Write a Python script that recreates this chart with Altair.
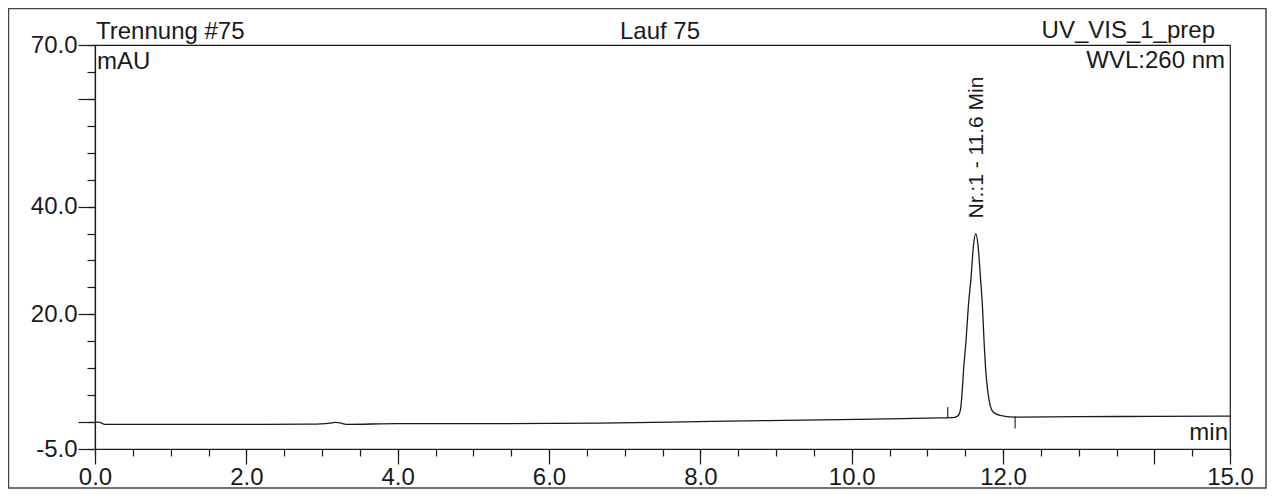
import altair as alt
import pandas as pd

# ---- data ----
time_min = [0.0, 0.05, 0.13, 1.0, 2.0, 2.8, 3.05, 3.13, 3.18, 3.24, 3.32, 4.0, 5.08, 6.67,
            8.16, 10.07, 11.17, 11.34, 11.41, 11.44, 11.46, 11.48, 11.51, 11.54, 11.58,
            11.61, 11.64, 11.67, 11.70, 11.73, 11.75, 11.77, 11.80, 11.83, 11.87, 11.96,
            12.14, 13.0, 14.0, 15.0]
signal_mau = [0.0, 0.0, -0.43, -0.43, -0.42, -0.40, -0.30, -0.15, -0.05, -0.15, -0.42,
              -0.30, -0.30, -0.19, 0.13, 0.50, 0.78, 0.82, 1.24, 2.49, 5.57, 9.92, 14.86,
              21.06, 27.24, 32.81, 35.0, 32.81, 27.24, 21.06, 14.86, 9.92, 5.57, 3.10,
              1.86, 1.24, 0.93, 1.00, 1.05, 1.10]

# peak start / end markers
marker_time = [11.27, 12.16]
marker_from = [0.8, 1.05]
marker_to = [2.8, -1.2]

# peak annotation
peak_label = ["Nr.:1 - 11.6 Min"]
peak_time = [11.64]
peak_height = [35.0]

# axes
x_minor_ticks = [0.0, 0.5, 1.0, 1.5, 2.0, 2.5, 3.0, 3.5, 4.0, 4.5, 5.0, 5.5, 6.0, 6.5, 7.0, 7.5,
                 8.0, 8.5, 9.0, 9.5, 10.0, 10.5, 11.0, 11.5, 12.0, 12.5, 13.0, 13.5, 14.0,
                 14.5, 15.0]
x_major_ticks = [0, 2, 4, 6, 8, 10, 12, 14, 15]
x_tick_labels = [0, 2, 4, 6, 8, 10, 12, 15]
y_minor_ticks = [-5, 0, 5, 10, 15, 20, 25, 30, 35, 40, 45, 50, 55, 60, 65, 70]
y_major_ticks = [70, 60, 40, 20, 0, -5]
y_tick_labels = [70, 40, 20, -5]

FONT = "Liberation Sans"
INK = "#1a1a1a"

df = pd.DataFrame({"t": time_min, "v": signal_mau})
mk = pd.DataFrame({"t": marker_time, "v1": marker_from, "v2": marker_to})
pk = pd.DataFrame({"t": peak_time, "v": peak_height, "label": peak_label})
one = pd.DataFrame({"a": [0]})

xscale = alt.Scale(domain=[0, 15], nice=False, zero=False)
yscale = alt.Scale(domain=[-5, 70], nice=False, zero=False)


def lab_expr(vals):
    arr = "[" + ",".join(str(v) for v in vals) + "]"
    return (f"indexof({arr}, datum.value) >= 0 ? "
            f"replace(format(datum.value, '.1f'), '\u2212', '-') : ''")


x_axis_minor = alt.Axis(values=x_minor_ticks, orient="bottom", tickSize=7, tickWidth=1.2,
                        tickColor=INK, labels=False, domain=True, domainColor=INK,
                        domainWidth=1.2, grid=False, title=None)
x_axis_major = alt.Axis(values=x_major_ticks, orient="bottom", tickSize=15, tickWidth=1.2,
                        tickColor=INK, domain=False, grid=False, title=None,
                        labelExpr=lab_expr(x_tick_labels), labelFont=FONT, labelFontSize=24,
                        labelColor=INK, labelPadding=1, labelOverlap=False,
                        labelFlush=False, labelBound=False)
y_axis_minor = alt.Axis(values=y_minor_ticks, orient="left", tickSize=8, tickWidth=1.2,
                        tickColor=INK, labels=False, domain=True, domainColor=INK,
                        domainWidth=1.2, grid=False, title=None)
y_axis_major = alt.Axis(values=y_major_ticks, orient="left", tickSize=17, tickWidth=1.2,
                        tickColor=INK, domain=False, grid=False, title=None,
                        labelExpr=lab_expr(y_tick_labels), labelFont=FONT, labelFontSize=24,
                        labelColor=INK, labelPadding=1, labelOverlap=False,
                        labelFlush=False, labelBound=False)

line = alt.Chart(df).mark_line(color=INK, strokeWidth=1.3, interpolate="monotone").encode(
    x=alt.X("t:Q", scale=xscale, axis=x_axis_minor),
    y=alt.Y("v:Q", scale=yscale, axis=y_axis_minor),
)

markers = alt.Chart(mk).mark_rule(color=INK, strokeWidth=1.1).encode(
    x=alt.X("t:Q", scale=xscale, axis=x_axis_major),
    y=alt.Y("v1:Q", scale=yscale, axis=y_axis_major),
    y2="v2:Q",
)

peak_text = alt.Chart(pk).mark_text(
    angle=270, align="left", baseline="alphabetic", dx=15, dy=7,
    font=FONT, fontSize=21, color=INK,
).encode(
    x=alt.X("t:Q", scale=xscale, axis=None),
    y=alt.Y("v:Q", scale=yscale, axis=None),
    text="label:N",
)


def note(txt, x, y, align):
    return alt.Chart(one).mark_text(
        align=align, baseline="alphabetic", font=FONT, fontSize=24, color=INK
    ).encode(x=alt.value(x), y=alt.value(y), text=alt.value(txt))


notes = [
    note("Trennung #75", 1, -6, "left"),
    note("Lauf 75", 565, -6, "center"),
    note("UV_VIS_1_prep", 1120, -7, "right"),
    note("mAU", 2, 24, "left"),
    note("WVL:260 nm", 1130, 23, "right"),
    note("min", 1133, 395, "right"),
]

frame = alt.Chart(one).mark_rect(filled=False, stroke="#444", strokeWidth=1.5).encode(
    x=alt.value(-86.5), x2=alt.value(1171), y=alt.value(-36.5), y2=alt.value(443)
)

chart = alt.layer(line, markers, peak_text, frame, *notes).resolve_axis(
    x="independent", y="independent"
).properties(
    width=1135, height=404,
    autosize=alt.AutoSizeParams(type="none"),
    padding={"left": 87, "top": 37, "right": 37, "bottom": 40},
    background="white",
).configure_view(stroke=INK, strokeWidth=1.2)

chart.save("out.html", embed_options={"renderer": "svg", "actions": False})
